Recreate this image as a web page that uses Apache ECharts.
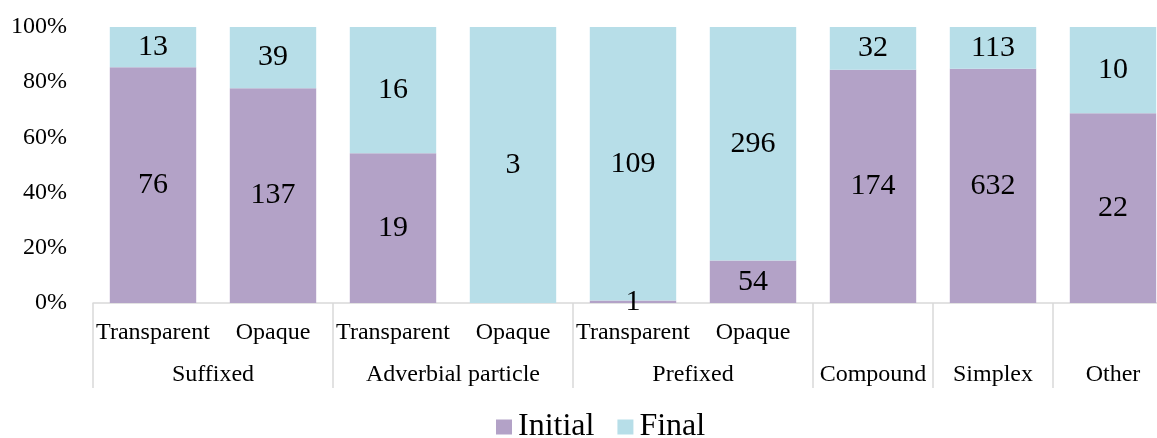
<!DOCTYPE html>
<html>
<head>
<meta charset="utf-8">
<script src="https://cdn.jsdelivr.net/npm/echarts@6/dist/echarts.min.js"></script>
<style>
  html, body { margin: 0; padding: 0; background: #fff; }
  #chart { width: 1157px; height: 438px; }
</style>
</head>
<body>
<div id="chart"></div>
<script>
// Sub-category labels on the first axis row (blank for single-bar groups)
const subLabels = ['Transparent', 'Opaque', 'Transparent', 'Opaque', 'Transparent', 'Opaque', '', '', ''];
// Group labels on the second row: [name, first category index, last category index]
const groups = [
  ['Suffixed', 0, 1],
  ['Adverbial particle', 2, 3],
  ['Prefixed', 4, 5],
  ['Compound', 6, 6],
  ['Simplex', 7, 7],
  ['Other', 8, 8]
];
// Counts per bar
const initialCounts = [76, 137, 19, 0, 1, 54, 174, 632, 22];
const finalCounts   = [13, 39, 16, 3, 109, 296, 32, 113, 10];
const yTicks = [0, 20, 40, 60, 80, 100];

const FONT = '"Liberation Serif", "Times New Roman", serif';
const categories = subLabels.map((s, i) => 'c' + i);
const totals = initialCounts.map((v, i) => v + finalCounts[i]);
const share = (arr) => arr.map((v, i) => ({ value: v / totals[i] * 100, count: v }));

// tick positions at group boundaries
const boundaryIdx = new Set(groups.map(g => g[1]));

const chart = echarts.init(document.getElementById('chart'));
const labelStyle = {
  show: true,
  position: 'inside',
  color: '#000',
  fontFamily: FONT,
  fontSize: 30,
  formatter: (p) => (p.data.count === 0 ? '' : String(p.data.count))
};

chart.setOption({
  animation: false,
  backgroundColor: '#fff',
  // the plot runs past the right edge of the canvas, so the last column is clipped
  grid: { left: 93, top: 27, width: 1080, height: 276, containLabel: false, outerBoundsMode: 'none' },
  legend: {
    top: 411,
    left: 496,
    padding: 0,
    icon: 'rect',
    itemWidth: 16,
    itemHeight: 15,
    itemGap: 23,
    textStyle: { fontFamily: FONT, fontSize: 32, color: '#000', padding: [0, 0, 0, 1] },
    data: ['Initial', 'Final']
  },
  xAxis: {
    type: 'category',
    data: categories,
    axisLine: { lineStyle: { color: '#d9d9d9', width: 1.5 } },
    axisTick: {
      show: true,
      alignWithLabel: false,
      length: 85,
      lineStyle: { color: '#d9d9d9', width: 1.5 },
      interval: (idx) => boundaryIdx.has(idx)
    },
    axisLabel: {
      interval: 0,
      margin: 17,
      fontFamily: FONT,
      fontSize: 24,
      lineHeight: 26,
      color: '#000',
      formatter: (v) => subLabels[categories.indexOf(v)]
    }
  },
  yAxis: {
    type: 'value',
    min: yTicks[0],
    max: yTicks[yTicks.length - 1],
    interval: 20,
    splitLine: { show: false },
    axisLine: { show: false },
    axisTick: { show: false },
    axisLabel: {
      margin: 26,
      fontFamily: FONT,
      fontSize: 24,
      color: '#000',
      formatter: (v) => v + '%'
    }
  },
  series: [
    {
      name: 'Initial',
      type: 'bar',
      stack: 'total',
      barCategoryGap: '28%',
      itemStyle: { color: '#b3a2c7' },
      label: labelStyle,
      data: share(initialCounts)
    },
    {
      name: 'Final',
      type: 'bar',
      stack: 'total',
      barCategoryGap: '28%',
      itemStyle: { color: '#b7dee8' },
      label: labelStyle,
      data: share(finalCounts)
    }
  ]
});

// Second row of group names, centred under each group's categories
function drawGroups() {
  const elements = groups.map(([name, a, b]) => {
    const xa = chart.convertToPixel({ xAxisIndex: 0 }, categories[a]);
    const xb = chart.convertToPixel({ xAxisIndex: 0 }, categories[b]);
    const y0 = chart.convertToPixel({ yAxisIndex: 0 }, 0);
    return {
      type: 'text',
      x: (xa + xb) / 2,
      y: y0 + 72,
      style: {
        text: name,
        fill: '#000',
        font: '24px ' + FONT,
        align: 'center',
        verticalAlign: 'middle'
      }
    };
  });
  chart.setOption({ graphic: elements });
}
drawGroups();
</script>
</body>
</html>
